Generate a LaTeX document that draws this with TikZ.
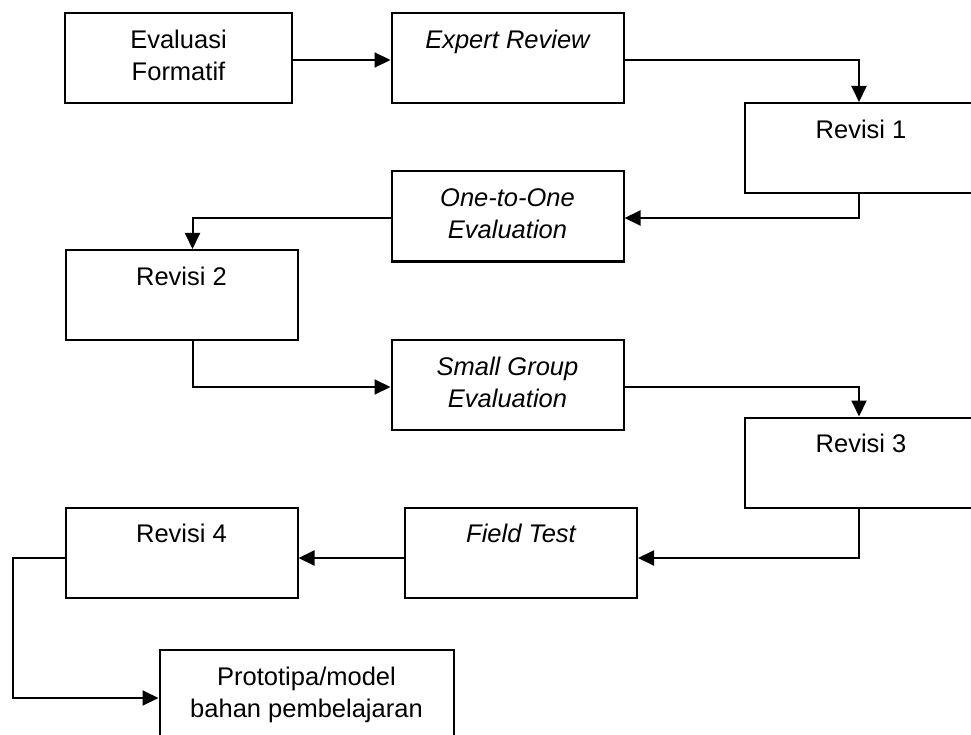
\documentclass[tikz,border=0pt]{standalone}
\usepackage{fontspec}
\setmainfont{Liberation Sans}
\usetikzlibrary{arrows.meta}
\newcommand{\duabaris}[2]{\strut #1\\\strut #2}

\begin{document}
\begin{tikzpicture}[x=1pt,y=-1pt,
  kotak/.style={draw, line width=2pt, minimum width=232pt, minimum height=90pt,
    align=center, inner sep=0pt, font=\fontsize{25.5pt}{32pt}\selectfont},
  panah/.style={line width=2pt, -{Triangle[length=16pt,width=15pt]}}]
\useasboundingbox (0,0) rectangle (971,735);
\node[kotak, minimum width=227pt] (eval) at (178.5,58.5) {\duabaris{Evaluasi}{Formatif}};
\node[kotak] (expert) at (507.5,58.5) {\duabaris{\itshape Expert Review}{}};
\node[kotak] (rev1) at (861,148) {\duabaris{Revisi 1}{}};
\node[kotak] (one) at (507.5,216.5) {\duabaris{\itshape One-to-One}{\itshape Evaluation}};
\node[kotak] (rev2) at (181.5,295) {\duabaris{Revisi 2}{}};
\node[kotak] (small) at (507.5,385) {\duabaris{\itshape Small Group}{\itshape Evaluation}};
\node[kotak] (rev3) at (861,462.5) {\duabaris{Revisi 3}{}};
\node[kotak] (field) at (521,552.5) {\duabaris{\itshape Field Test}{}};
\node[kotak] (rev4) at (181.5,552.5) {\duabaris{Revisi 4}{}};
\node[kotak, minimum width=294pt] (proto) at (306.5,695) {\duabaris{Prototipa/model}{bahan pembelajaran}};
\draw[panah] ([yshift=-1.5pt]eval.east) -- ([yshift=-1.5pt]expert.west);
\draw[panah] ([yshift=-1.5pt]expert.east) -| ([xshift=-2pt]rev1.north);
\draw[panah] ([xshift=-2pt]rev1.south) |- ([yshift=-1.5pt]one.east);
\draw[panah] ([yshift=-1.5pt]one.west) -| ([xshift=11pt]rev2.north);
\draw[panah] ([xshift=11pt]rev2.south) |- ([yshift=-2pt]small.west);
\draw[panah] ([yshift=-2pt]small.east) -| ([xshift=-2pt]rev3.north);
\draw[panah] ([xshift=-2pt]rev3.south) |- ([yshift=-5.5pt]field.east);
\draw[panah] ([yshift=-5.5pt]field.west) -- ([yshift=-5.5pt]rev4.east);
\draw[panah] ([yshift=-5.5pt]rev4.west) -- ++(-52,0) |- ([yshift=-3pt]proto.west);
\end{tikzpicture}
\end{document}
